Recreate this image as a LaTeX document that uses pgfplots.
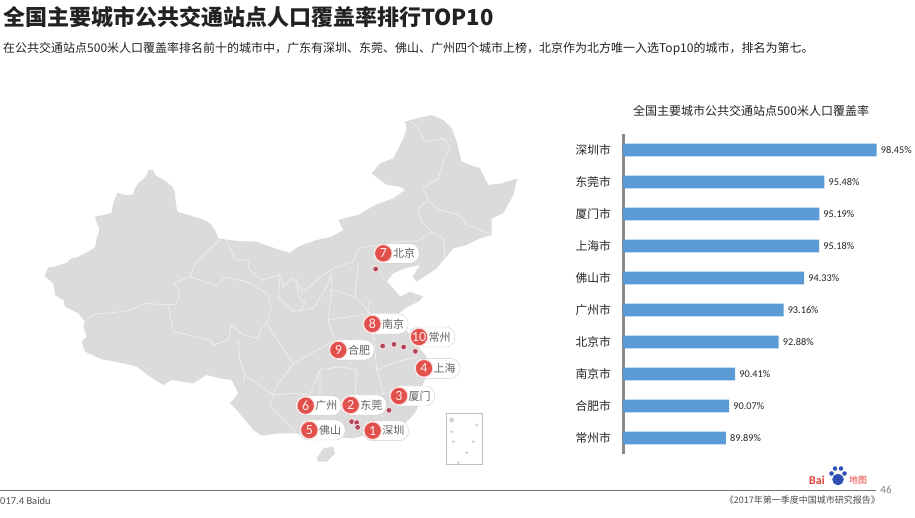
\documentclass[border=0pt]{standalone}
\usepackage{pgfplots}
\pgfplotsset{compat=1.18}
\usepackage{fontspec}
\setmainfont{Noto Sans CJK SC}
\newfontfamily\latinfont{Carlito}
\definecolor{mapgray}{HTML}{DBDBDB}
\definecolor{mapline}{HTML}{F1F1F1}
\definecolor{barblue}{HTML}{5B9BD5}
\definecolor{axisgray}{HTML}{8A8A8A}
\definecolor{pinred}{HTML}{E2504C}
\definecolor{dotred}{HTML}{B0455C}
\definecolor{logored}{HTML}{E0403A}
\definecolor{logoblue}{HTML}{2F4FB5}
\definecolor{ink}{HTML}{222222}
\newcommand{\fs}[1]{\fontsize{#1bp}{#1bp}\selectfont}
% label pill on the map, arguments in map units: x, y, number, city
\newcommand{\pill}[4]{%
  \node[draw=black!20,fill=white,rounded corners=9.5bp,minimum width=46bp,minimum height=20bp,inner sep=0pt,anchor=west] at (axis cs:#1-31,#2) {};
  \node[circle,fill=pinred,draw=pinred!22,line width=1bp,minimum size=17.5bp,inner sep=0pt,text=white!90!pinred] at (axis cs:#1,#2) {\fs{14}\latinfont #3};
  \node[anchor=center,inner sep=0pt,text=black!62] at (axis cs:#1+62,#2) {\fs{11}#4};
}
\pgfplotsset{
  border/.style={draw=mapline,line width=.65bp,mark=none},
  page/.style={scale only axis,hide axis,clip=false}
}
\begin{document}
\begin{tikzpicture}[x=1bp,y=1bp]
\path[use as bounding box] (0,0) rectangle (915,518);
% map, in units of 1/3 pixel, origin at pixel (30,100)
\begin{axis}[page,at={(30bp,38bp)},anchor=south west,width=510bp,height=380bp,
  xmin=0,xmax=1530,ymin=0,ymax=1140,y dir=reverse]
\addplot[fill=mapgray,draw=none,mark=none] coordinates {
(45,525)(55,502)(75,500)(90,495)(110,488)(125,475)(140,472)(155,465)(175,455)(195,442)(198,428)(200,415)(206,400)(208,385)(200,368)(195,350)(220,345)(245,338)(247,322)(250,310)(256,294)(262,278)(285,285)(310,283)(314,266)(325,250)(340,238)(350,225)(355,210)(370,210)(378,228)(398,238)(415,250)(428,262)(435,275)(437,305)(442,335)(475,345)(510,355)(530,363)(545,375)(557,395)(565,415)(595,420)(640,424)(680,425)(715,438)(750,450)(780,458)(805,440)(830,430)(860,420)(905,410)(940,390)(925,360)(960,350)(985,345)(1035,315)(1090,295)(1125,270)(1110,260)(1070,255)(1025,220)(1050,190)(1090,175)(1120,115)(1130,85)(1125,65)(1160,55)(1205,45)(1240,60)(1265,85)(1280,125)(1295,185)(1320,195)(1350,205)(1375,255)(1415,250)(1462,235)(1450,285)(1420,340)(1385,355)(1385,405)(1350,415)(1310,435)(1270,445)(1220,505)(1160,545)(1148,530)(1170,495)(1125,505)(1090,520)(1070,545)(1090,565)(1110,590)(1140,575)(1180,590)(1165,605)(1125,625)(1095,650)(1125,680)(1135,700)(1165,740)(1190,770)(1182,790)(1188,830)(1172,870)(1165,920)(1150,945)(1130,965)(1080,985)(1030,1000)(970,1015)(930,1012)(890,1020)(880,1000)(850,1020)(800,1000)(750,1000)(695,1007)(670,990)(645,960)(620,930)(600,910)(625,880)(605,840)(570,835)(530,825)(490,850)(425,840)(400,855)(360,830)(320,800)(280,790)(215,778)(165,755)(155,725)(170,710)(160,680)(165,665)(145,640)(105,620)(100,600)(75,585)(70,550)(45,530)
} --cycle;
% Hainan
\addplot[fill=mapgray,draw=none,mark=none] coordinates {(860,1075)(880,1045)(910,1040)(915,1060)(890,1085)(865,1085)} --cycle;
% province borders
\addplot[border] coordinates {(160,667)(195,642)(245,638)(295,632)(350,610)(415,615)(440,612)(450,575)(430,550)(480,530)(495,490)(525,460)(570,420)};
\addplot[border] coordinates {(480,530)(560,558)(585,532)(650,545)(710,580)(723,620)(710,670)(690,690)(685,715)(640,705)(605,675)(595,720)(550,735)(540,720)(430,695)(415,620)};
\addplot[border] coordinates {(590,420)(615,480)(655,480)(655,505)(695,540)(750,525)(760,560)(790,535)(820,575)(880,525)(910,505)(970,485)(985,445)};
\addplot[border] coordinates {(625,725)(630,780)(645,825)(640,850)};
\addplot[border] coordinates {(985,445)(1040,435)(1105,425)(1160,425)(1205,395)(1240,415)(1245,475)};
\addplot[border] coordinates {(1195,305)(1230,330)(1290,345)(1310,375)(1375,400)};
\addplot[border] coordinates {(1145,65)(1165,85)(1185,125)(1240,115)(1260,140)(1240,185)(1225,235)(1180,265)(1195,300)(1165,325)(1175,365)(1205,395)};
\addplot[border] coordinates {(750,525)(745,590)(790,635)(850,625)(890,560)(905,520)};
\addplot[border] coordinates {(800,535)(805,590)(825,610)(810,635)};
\addplot[border] coordinates {(905,520)(905,570)(895,660)(915,720)(880,740)(790,790)(740,860)(730,885)(780,880)(840,885)(870,810)(870,900)};
\addplot[border] coordinates {(895,660)(960,650)(1020,640)(1110,640)};
\addplot[border] coordinates {(985,485)(975,590)(1020,640)(1030,700)(1040,810)(1100,785)(1165,770)};
\addplot[border] coordinates {(905,570)(975,590)};
\addplot[border] coordinates {(1020,600)(1015,630)};
\addplot[border] coordinates {(870,810)(930,800)(980,810)(975,880)(1010,900)(1060,880)(1040,810)};
\addplot[border] coordinates {(870,900)(1000,900)(1060,950)};
\addplot[border] coordinates {(1060,880)(1170,870)};
\addplot[border] coordinates {(710,670)(725,695)(790,790)};
\addplot[border] coordinates {(645,825)(730,885)(720,920)(800,1000)};
\addplot[border] coordinates {(1050,510)(1060,540)};
% inset
\addplot[draw=black!25,line width=.6bp,mark=none,fill=white] coordinates {(1250,940)(1358,940)(1358,1092)(1250,1092)} --cycle;
\addplot[only marks,color=black!18,mark=*,mark size=1.2bp] coordinates {
(1340,975)(1265,995)(1270,1025)(1330,1025)(1310,1058)(1285,1088)};
\addplot[only marks,color=black!18,mark=*,mark size=2.2bp] coordinates {(1265,960)};
% cities
\addplot[only marks,mark=*,mark size=3bp,mark options={fill=dotred,draw=pinred!18,line width=.9bp}] coordinates {
(1037,507)(1058,738)(1092,733)(1121,741)(1156,754)(1077,931)(965,965)(980,968)(983,982)};
\pill{1060}{460}{7}{北京}
\pill{1027}{672}{8}{南京}
\pill{1167}{711}{10}{常州}
\pill{925}{750}{9}{合肥}
\pill{1182}{805}{4}{上海}
\pill{1107}{888}{3}{厦门}
\pill{827}{917}{6}{广州}
\pill{962}{915}{2}{东莞}
\pill{838}{990}{5}{佛山}
\pill{1028}{992}{1}{深圳}
\end{axis}
% bars
\begin{axis}[at={(623bp,64bp)},anchor=south west,scale only axis,width=257bp,height=320bp,
  xbar,bar shift=0pt,bar width=12.7bp,
  xmin=84.04,xmax=98.64,ymin=-0.5,ymax=9.5,y dir=reverse,
  axis x line=none,axis y line=left,
  y axis line style={-,line width=3bp,draw=axisgray},
  ytick=data,major tick length=0pt,
  yticklabels={深圳市,东莞市,厦门市,上海市,佛山市,广州市,北京市,南京市,合肥市,常州市},
  yticklabel style={font=\fs{11.7},text=ink,inner sep=0pt,xshift=-12bp},
  point meta=x,
  /pgf/number format/assume math mode=true,
  nodes near coords={\pgfmathprintnumber[fixed,fixed zerofill,precision=2]{\pgfplotspointmeta}\%},
  nodes near coords style={font=\fs{10.3}\latinfont,text=ink,inner sep=0pt,xshift=4bp,anchor=west}]
\addplot[fill=barblue,draw=none] coordinates {
(98.45,0)(95.48,1)(95.19,2)(95.18,3)(94.33,4)(93.16,5)(92.88,6)(90.41,7)(90.07,8)(89.89,9)};
\end{axis}
% page furniture, in pixels
\begin{axis}[page,at={(0bp,0bp)},anchor=south west,width=915bp,height=518bp,
  xmin=0,xmax=915,ymin=0,ymax=518,y dir=reverse]
\node[anchor=west,inner sep=0pt,text=ink] at (axis cs:3,17) {\fs{22}\bfseries 全国主要城市公共交通站点人口覆盖率排行TOP10};
\node[anchor=west,inner sep=0pt,text=ink] at (axis cs:3,48.5) {\fs{12}在公共交通站点500米人口覆盖率排名前十的城市中，广东有深圳、东莞、佛山、广州四个城市上榜，北京作为北方唯一入选Top10的城市，排名为第七。};
\node[anchor=center,inner sep=0pt,text=ink] at (axis cs:751,111) {\fs{12}全国主要城市公共交通站点500米人口覆盖率};
\addplot[draw=black!55,line width=.8bp,mark=none] coordinates {(0,490.5)(876,490.5)};
\node[anchor=west,inner sep=0pt,text=black!70] at (axis cs:0,500.5) {\fs{10.5}\latinfont 017.4 Baidu};
\node[anchor=east,inner sep=0pt,text=black!70] at (axis cs:880,500.5) {\fs{9}《2017年第一季度中国城市研究报告》};
\node[anchor=center,inner sep=0pt,text=black!50] at (axis cs:886,490) {\fs{11}\latinfont 46};
% logo
\node[anchor=west,inner sep=0pt,text=logored] at (axis cs:809,480) {\fs{12}\latinfont\bfseries Bai};
\addplot[only marks,color=logoblue,mark=*,mark size=2bp] coordinates {(831.5,473.5)(835,468.5)(841,468.5)(844.5,473.5)};
\addplot[only marks,color=logoblue,mark=*,mark size=5.5bp] coordinates {(838,479.5)};
\node[anchor=center,inner sep=0pt,text=white] at (axis cs:838,480) {\fs{7}\latinfont\bfseries du};
\node[anchor=west,inner sep=0pt,text=logored] at (axis cs:849,480) {\fs{9}地图};
\end{axis}
\end{tikzpicture}
\end{document}
